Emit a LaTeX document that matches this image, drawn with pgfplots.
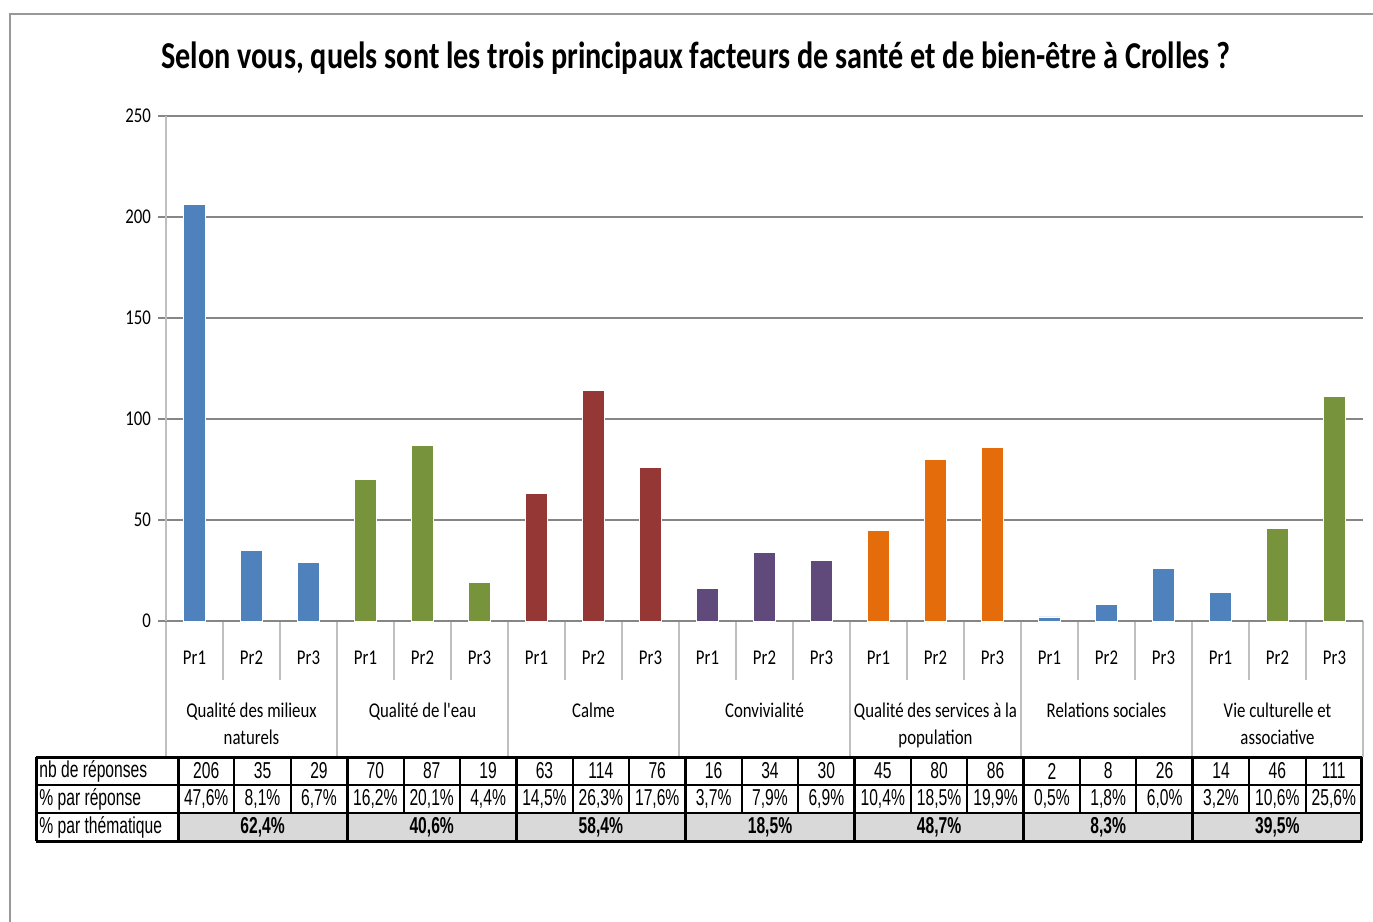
\documentclass[border=0pt]{standalone}
\usepackage{fontspec}
\setmainfont{Carlito}
\newfontfamily\chartfont[FakeStretch=0.8]{Carlito}
\newfontfamily\titlefont[FakeStretch=0.795]{Carlito}
\newfontfamily\tabfont[FakeStretch=0.68]{Liberation Sans}
\usepackage{pgfplots}
\pgfplotsset{compat=1.18}
\definecolor{cblue}{HTML}{4F81BD}
\definecolor{cgreen}{HTML}{77933C}
\definecolor{cred}{HTML}{953735}
\definecolor{cpurple}{HTML}{604A7B}
\definecolor{corange}{HTML}{E46C0A}
\definecolor{tgray}{HTML}{D9D9D9}
\definecolor{lgray}{HTML}{868686}
\definecolor{llgray}{HTML}{BFBFBF}
\newcommand{\cf}{\chartfont\fontsize{10.5}{12.5}\selectfont}
\newcommand{\tf}{\tabfont\fontsize{11.5}{13}\selectfont}
\begin{document}
\begin{tikzpicture}
\begin{scope}[x=0.5pt,y=-0.5pt]
\path[use as bounding box] (0,0) rectangle (1373,922);
\draw[gray!80, line width=1pt] (10,922) -- (10,14) -- (1373,14);
\node[font=\titlefont\fontsize{19}{22}\selectfont\bfseries] at (696,58) {Selon vous, quels sont les trois principaux facteurs de santé et de bien-être à Crolles ?};
% separators under the x axis
\foreach \k in {0,3,...,21} \draw[llgray, line width=0.6pt] ({166+57*\k},621) -- ({166+57*\k},757);
\foreach \k in {1,2,4,5,7,8,10,11,13,14,16,17,19,20} \draw[llgray, line width=0.6pt] ({166+57*\k},621) -- ({166+57*\k},680);
% group labels
\node[font=\cf, anchor=base] at ({166+57*1.5},717) {Qualité des milieux};
\node[font=\cf, anchor=base] at ({166+57*1.5},744) {naturels};
\node[font=\cf, anchor=base] at ({166+57*4.5},717) {Qualité de l'eau};
\node[font=\cf, anchor=base] at ({166+57*7.5},717) {Calme};
\node[font=\cf, anchor=base] at ({166+57*10.5},717) {Convivialité};
\node[font=\cf, anchor=base] at ({166+57*13.5},717) {Qualité des services à la};
\node[font=\cf, anchor=base] at ({166+57*13.5},744) {population};
\node[font=\cf, anchor=base] at ({166+57*16.5},717) {Relations sociales};
\node[font=\cf, anchor=base] at ({166+57*19.5},717) {Vie culturelle et};
\node[font=\cf, anchor=base] at ({166+57*19.5},744) {associative};
\end{scope}
\begin{axis}[
  at={(83pt,-310.5pt)}, anchor=south west,
  scale only axis, width=598.5pt, height=252.5pt,
  xmin=-0.5, xmax=20.5, ymin=0, ymax=250,
  axis x line*=bottom, axis y line*=left,
  x axis line style={lgray, line width=0.6pt, -},
  y axis line style={llgray, line width=0.6pt, -},
  ytick={0,50,100,150,200,250},
  ymajorgrids, grid style={lgray, line width=0.6pt},
  ytick style={lgray, line width=0.6pt},
  tick align=outside, major tick length=4pt,
  xtick={0,...,20},
  xticklabels={Pr1,Pr2,Pr3,Pr1,Pr2,Pr3,Pr1,Pr2,Pr3,Pr1,Pr2,Pr3,Pr1,Pr2,Pr3,Pr1,Pr2,Pr3,Pr1,Pr2,Pr3},
  xtick style={draw=none},
  xticklabel style={font=\cf, yshift=-7.5pt},
  yticklabel style={font=\cf},
  /pgf/number format/assume math mode=true,
  ybar, bar width=11pt, bar shift=0pt,
  clip=false,
]
\addplot[fill=cblue, draw=white, line width=0.4pt] coordinates {(0,206) (1,35) (2,29) (15,2) (16,8) (17,26) (18,14)};
\addplot[fill=cgreen, draw=white, line width=0.4pt] coordinates {(3,70) (4,87) (5,19) (19,46) (20,111)};
\addplot[fill=cred, draw=white, line width=0.4pt] coordinates {(6,63) (7,114) (8,76)};
\addplot[fill=cpurple, draw=white, line width=0.4pt] coordinates {(9,16) (10,34) (11,30)};
\addplot[fill=corange, draw=white, line width=0.4pt] coordinates {(12,45) (13,80) (14,86)};
\end{axis}
\begin{scope}[x=0.5pt,y=-0.5pt]
\fill[tgray] (178,813) rectangle (1362,841);
\node[font=\tf, anchor=west, inner sep=0.5pt] at (38,771) {nb de réponses};
\node[font=\tf, anchor=west, inner sep=0.5pt] at (38,799) {\% par réponse};
\node[font=\tf, anchor=west, inner sep=0.5pt] at (38,827) {\% par thématique};
\foreach \v [count=\i from 0] in {206,35,29,70,87,19,63,114,76,16,34,30,45,80,86,2,8,26,14,46,111}
  \node[font=\tf] at ({178+56.38*(\i+0.5)},771) {\v};
\foreach \v [count=\i from 0] in {{47,6\%},{8,1\%},{6,7\%},{16,2\%},{20,1\%},{4,4\%},{14,5\%},{26,3\%},{17,6\%},{3,7\%},{7,9\%},{6,9\%},{10,4\%},{18,5\%},{19,9\%},{0,5\%},{1,8\%},{6,0\%},{3,2\%},{10,6\%},{25,6\%}}
  \node[font=\tf] at ({178+56.38*(\i+0.5)},799) {\v};
\foreach \v [count=\i from 0] in {{62,4\%},{40,6\%},{58,4\%},{18,5\%},{48,7\%},{8,3\%},{39,5\%}}
  \node[font=\tf\bfseries] at ({178+169.14*(\i+0.5)},827) {\v};
\foreach \yy in {757,785,813,841} \draw[line width=1pt] (36,\yy) -- (1362,\yy);
\foreach \c in {1,2,4,5,7,8,10,11,13,14,16,17,19,20} \draw[line width=1pt] ({178+56.38*\c},757) -- ({178+56.38*\c},813);
\foreach \g in {0,...,7} \draw[line width=1.5pt] ({178+169.14*\g},757) -- ({178+169.14*\g},841);
\draw[line width=1.5pt] (36,757) -- (36,841);
\draw[line width=1.5pt] (36,757) -- (1362,757);
\draw[line width=1.5pt] (36,841) -- (1362,841);
\end{scope}
\end{tikzpicture}
\end{document}
